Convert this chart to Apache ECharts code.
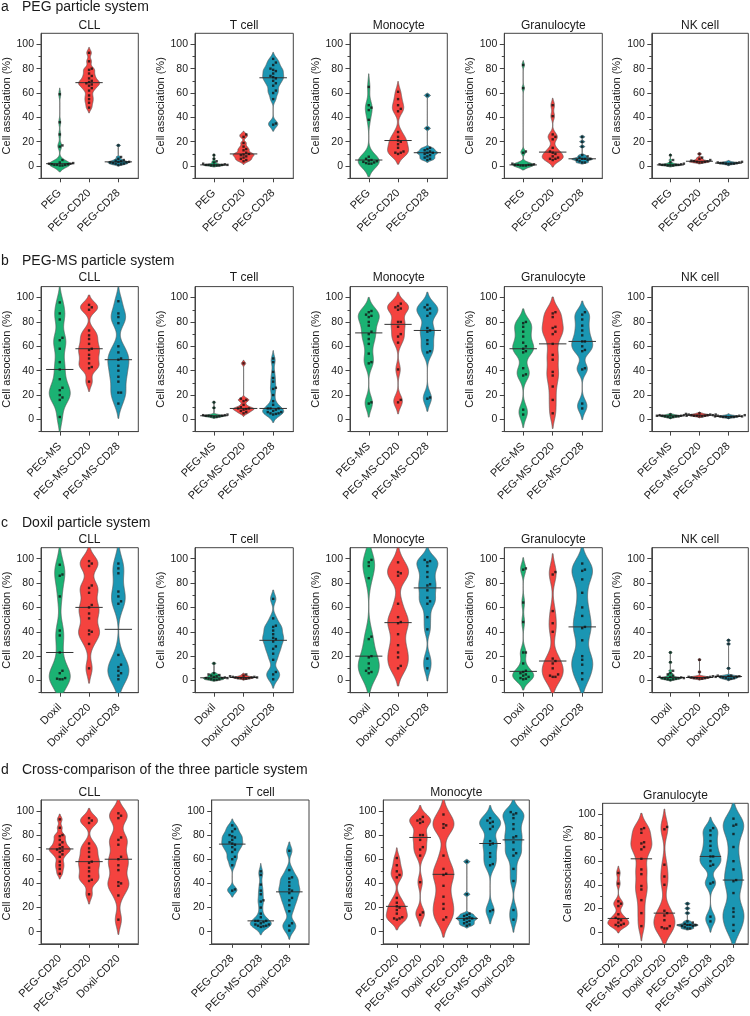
<!DOCTYPE html>
<html><head><meta charset="utf-8">
<script src="https://cdn.jsdelivr.net/npm/echarts@6/dist/echarts.min.js"></script>
<style>html,body{margin:0;padding:0;background:#fff}#c{width:750px;height:1016px}</style>
</head><body><div id="c"></div>
<script>
// ---------- tick labels / categories ----------
const majorTicks = [0, 20, 40, 60, 80, 100];
const minorTicks = [-10, 10, 30, 50, 70, 90];
const cellTypes = ['CLL', 'T cell', 'Monocyte', 'Granulocyte', 'NK cell'];
const catsA = ['PEG', 'PEG-CD20', 'PEG-CD28'];
const catsB = ['PEG-MS', 'PEG-MS-CD20', 'PEG-MS-CD28'];
const catsC = ['Doxil', 'Doxil-CD20', 'Doxil-CD28'];
const catsD20 = ['PEG-CD20', 'PEG-MS-CD20', 'Doxil-CD20'];
const catsD28 = ['PEG-CD28', 'PEG-MS-CD28', 'Doxil-CD28'];
const catsD6 = ['PEG-CD20', 'PEG-MS-CD20', 'Doxil-CD20', 'PEG-CD28', 'PEG-MS-CD28', 'Doxil-CD28'];
const sectionLetters = ['a', 'b', 'c', 'd'];
const sectionTitles = ['PEG particle system', 'PEG-MS particle system', 'Doxil particle system', 'Cross-comparison of the three particle system'];
const yName = 'Cell association (%)';

// ---------- data (cell association %, individual donors) ----------
// a: PEG
const a_CLL_PEG  = [59, 36, 26, 17, 16, 5, 3, 2.5, 2, 2, 1.5, 1.5, 1, 1, 1, 0.5, 0.5];
const a_CLL_CD20 = [93, 86, 80, 79, 76, 74, 72, 70, 69, 68, 67, 66, 64, 62, 58, 55, 52, 48];
const a_CLL_CD28 = [17, 7.5, 6, 5, 4.5, 4, 3.5, 3.5, 3, 3, 2.5, 2, 2, 1.5, 1];
const a_T_PEG    = [9, 6, 4, 3, 2, 1.5, 1, 1, 1, 1, 0.5, 0.5, 0.5, 0.5];
const a_T_CD20   = [26, 24, 19, 16, 14, 13, 11, 10, 9.5, 9, 8, 7, 6, 5, 4];
const a_T_CD28   = [88, 85, 83, 80, 79, 78, 76, 74, 73, 72, 70, 68, 66, 62, 60, 55, 35, 34];
const a_Mono_PEG = [65, 50, 48, 46, 38, 7.7, 6, 5, 4.5, 4, 3.5, 3, 2.5, 2, 2];
const a_Mono_CD20= [61, 55, 50, 47, 45, 28, 24, 21, 20, 18, 15, 12, 11, 11, 10];
const a_Mono_CD28= [58, 31, 15, 14, 13, 12, 11, 11, 10, 9, 8, 7, 6, 5];
const a_Gran_PEG = [83, 64, 12, 11, 2, 1.5, 1, 1, 1, 1, 0.5, 0.5, 0.5];
const a_Gran_CD20= [50, 41, 26, 24, 22, 15, 12, 11, 10, 8, 7, 6, 6, 5];
const a_Gran_CD28= [24, 20, 16, 9, 8, 7, 6, 6, 6, 5, 5, 4, 3, 3];
const a_NK_PEG   = [9, 5, 3, 2, 1.5, 1.5, 1, 1, 1, 0.5, 0.5, 1, 0.5];
const a_NK_CD20  = [10, 7, 6, 5, 4.5, 4, 4, 3.5, 3.5, 3, 3];
const a_NK_CD28  = [3.5, 3, 3, 2.5, 2.5, 2.5, 2, 2, 2, 1.5];
// b: PEG-MS
const b_CLL_MS   = [96, 87, 82, 67, 65, 58, 47, 41, 33, 26, 24, 20, 18, 16, 2];
const b_CLL_CD20 = [94, 92, 90, 73, 69, 66, 62, 58, 57, 53, 50, 46, 43, 42, 31];
const b_CLL_CD28 = [97, 87, 84, 79, 60, 55, 50, 49, 44, 40, 35, 31, 22, 22, 13];
const b_T_MS     = [14, 9.5, 4, 3.5, 3.5, 3, 3, 3, 2.5, 2.5, 2, 2];
const b_T_CD20   = [46, 17, 16, 15, 12, 10, 9, 9, 8.5, 8, 7, 6, 5];
const b_T_CD28   = [50, 47, 39, 34, 31, 26, 25, 20, 15, 12, 9, 9, 9, 8, 7, 6, 6, 5, 5, 4.5, 4];
const b_Mono_MS  = [89, 88, 86, 85, 84, 80, 77, 72, 70, 66, 62, 54, 47, 46, 14, 13];
const b_Mono_CD20= [95, 93, 92, 91, 90, 80, 80, 76, 70, 68, 63, 41, 16, 14];
const b_Mono_CD28= [94, 92, 91, 90, 87, 85, 75, 73, 72, 65, 62, 56, 55, 18, 17];
const b_Gran_MS  = [80, 79, 76, 72, 68, 63, 60, 58, 56, 55, 42, 37, 36, 8, 4];
const b_Gran_CD20= [88, 87, 84, 76, 75, 72, 70, 62, 53, 49, 39, 36, 27, 16, 5];
const b_Gran_CD28= [88, 86, 82, 77, 73, 69, 64, 64, 60, 57, 56, 42, 41, 13, 9];
const b_NK_MS    = [4, 3.5, 3.5, 3, 3, 3, 2.5, 2.5, 2, 2, 3, 2.5, 1.5];
const b_NK_CD20  = [5, 4.5, 4, 4, 3.5, 3.5, 3, 3, 3, 2.5, 2.5, 4, 3.5];
const b_NK_CD28  = [3.5, 3, 3, 2.5, 2.5, 2.5, 2, 2, 2, 2, 1.5, 2.5];
// c: Doxil
const c_CLL_Dox  = [95, 87, 86, 69, 41, 37, 23, 8, 6, 2, 1.5, 1, 1];
const c_CLL_CD20 = [98, 96, 94, 78, 76, 72, 62, 60, 55, 51, 41, 40, 38, 30, 10];
const c_CLL_CD28 = [96, 92, 88, 73, 69, 65, 63, 21, 13, 11, 8, 6, 4, 1];
const c_T_Dox    = [14, 6, 5, 4.5, 4, 3.5, 3, 2.5, 2, 2, 2, 1.5, 1, 1, 0.5, 0.5];
const c_T_CD20   = [5, 4, 3.5, 3, 3, 2.5, 2.5, 2.5, 2, 2, 2, 1.5, 1.5];
const c_T_CD28   = [67, 51, 45, 44, 41, 38, 35, 34, 32, 28, 26, 22, 17, 7, 5, 1];
const c_Mono_Dox = [99, 97, 94, 84, 36, 34, 20, 19, 14, 10, 8, 7, 6];
const c_Mono_CD20= [97, 89, 88, 86, 63, 52, 48, 47, 38, 29, 23, 19, 12, 10];
const c_Mono_CD28= [99, 98, 97, 94, 89, 85, 79, 78, 74, 68, 65, 63, 52, 42, 18, 10];
const c_Gran_Dox = [92, 91, 64, 48, 23, 23, 14, 8, 7, 6, 5, 4, 3, 2, 1.5, 1];
const c_Gran_CD20= [89, 87, 57, 47, 40, 18, 16, 14, 10, 5, 4, 3, 3];
const c_Gran_CD28= [96, 91, 90, 83, 72, 60, 53, 44, 43, 33, 20, 17, 13, 6, 1];
const c_NK_Dox   = [23, 15, 8, 6, 5, 4, 3, 3, 2.5, 2, 2, 2, 1.5, 1.5, 1, 1, 0.5];
const c_NK_CD20  = [17, 7, 3.5, 3, 3, 3, 2.5, 2.5, 2, 2, 2, 1.5, 1.5];
const c_NK_CD28  = [33, 30, 10, 4, 4, 3.5, 3.5, 3, 3, 2.5, 2, 2, 1.5, 1];

// ---------- style / layout ----------
const FONT = '"Liberation Sans", Arial, Helvetica, sans-serif';
const GREEN = '#1bb273', RED = '#f4433f', BLUE = '#1b96b3';
const AXC = '#444', TXT = '#1a1a1a';
const Y_MIN = -10, Y_MAX = 109;
const BOX_H = 145;

const rowTops = [33.3, 286.6, 547.7];
const colLefts = [40.7, 195, 350, 504.3, 651.8];
const colW = [97.6, 98.3, 97.3, 98, 96.5];
const titleYs = [26, 278, 540];
const sectionYs = [7, 261, 523, 770];

const rowSets = [
  [[a_CLL_PEG, a_CLL_CD20, a_CLL_CD28], [a_T_PEG, a_T_CD20, a_T_CD28], [a_Mono_PEG, a_Mono_CD20, a_Mono_CD28], [a_Gran_PEG, a_Gran_CD20, a_Gran_CD28], [a_NK_PEG, a_NK_CD20, a_NK_CD28]],
  [[b_CLL_MS, b_CLL_CD20, b_CLL_CD28], [b_T_MS, b_T_CD20, b_T_CD28], [b_Mono_MS, b_Mono_CD20, b_Mono_CD28], [b_Gran_MS, b_Gran_CD20, b_Gran_CD28], [b_NK_MS, b_NK_CD20, b_NK_CD28]],
  [[c_CLL_Dox, c_CLL_CD20, c_CLL_CD28], [c_T_Dox, c_T_CD20, c_T_CD28], [c_Mono_Dox, c_Mono_CD20, c_Mono_CD28], [c_Gran_Dox, c_Gran_CD20, c_Gran_CD28], [c_NK_Dox, c_NK_CD20, c_NK_CD28]]
];
const rowCats = [catsA, catsB, catsC];

const panels = [];
for (let r = 0; r < 3; r++) {
  for (let c = 0; c < 5; c++) {
    panels.push({
      left: colLefts[c], top: rowTops[r], width: colW[c], height: BOX_H,
      title: cellTypes[c], titleY: titleYs[r],
      cats: rowCats[r], sets: rowSets[r][c], colors: [GREEN, RED, BLUE],
      xMin: -0.64, xMax: 2.68
    });
  }
}
panels.push({left: 40.7, top: 800, width: 97.6, height: BOX_H, title: 'CLL', titleY: 793,
  cats: catsD20, sets: [a_CLL_CD20, b_CLL_CD20, c_CLL_CD20], colors: [RED, RED, RED], xMin: -0.64, xMax: 2.68});
panels.push({left: 211.7, top: 800, width: 97.3, height: BOX_H, title: 'T cell', titleY: 793,
  cats: catsD28, sets: [a_T_CD28, b_T_CD28, c_T_CD28], colors: [BLUE, BLUE, BLUE], xMin: -0.72, xMax: 2.69});
panels.push({left: 383.3, top: 800, width: 146, height: BOX_H, title: 'Monocyte', titleY: 793,
  cats: catsD6, sets: [a_Mono_CD20, b_Mono_CD20, c_Mono_CD20, a_Mono_CD28, b_Mono_CD28, c_Mono_CD28],
  colors: [RED, RED, RED, BLUE, BLUE, BLUE], xMin: -0.58, xMax: 5.68});
panels.push({left: 602.7, top: 803.3, width: 145.5, height: BOX_H, title: 'Granulocyte', titleY: 796,
  cats: catsD6, sets: [a_Gran_CD20, b_Gran_CD20, c_Gran_CD20, a_Gran_CD28, b_Gran_CD28, c_Gran_CD28],
  colors: [RED, RED, RED, BLUE, BLUE, BLUE], xMin: -0.68, xMax: 5.64});

// ---------- helpers ----------
function quantile(s, p) {
  const pos = (s.length - 1) * p, lo = Math.floor(pos), hi = Math.ceil(pos);
  return s[lo] + (s[hi] - s[lo]) * (pos - lo);
}
function median(vals) { return quantile(vals.slice().sort((a, b) => a - b), 0.5); }
function violinShape(vals) {
  const s = vals.slice().sort((a, b) => a - b), n = s.length;
  const mean = s.reduce((a, b) => a + b, 0) / n;
  const sd = Math.sqrt(s.reduce((a, b) => a + (b - mean) * (b - mean), 0) / (n - 1));
  const iqr = quantile(s, 0.75) - quantile(s, 0.25);
  let spread = Math.min(sd, iqr / 1.34);
  if (!(spread > 0)) spread = sd;
  const h = Math.max(0.6, 0.45 * 0.9 * spread * Math.pow(n, -0.2));
  const lo = s[0] - 2 * h, hi = s[n - 1] + 2 * h, N = 320;
  const out = []; let mx = 0;
  for (let i = 0; i <= N; i++) {
    const y = lo + (hi - lo) * i / N;
    let d = 0;
    for (const v of s) { const z = (y - v) / h; d += Math.exp(-0.5 * z * z); }
    out.push([y, d]); if (d > mx) mx = d;
  }
  return out.map(p => [p[0], p[1] / mx]);
}
function swarm(vals, xPU, yPU, dpx) {
  const s = vals.slice().sort((a, b) => a - b);
  const placed = [], out = [];
  for (const v of s) {
    const y = v * yPU;
    let xo = 0;
    for (let k = 0; k < 80; k++) {
      const cand = k === 0 ? 0 : (k % 2 ? 1 : -1) * Math.ceil(k / 2) * dpx;
      let ok = true;
      for (const p of placed) { const dx = p[0] - cand, dy = p[1] - y; if (dx * dx + dy * dy < dpx * dpx) { ok = false; break; } }
      if (ok) { xo = cand; break; }
    }
    placed.push([xo, y]);
    out.push([xo / xPU, v]);
  }
  return out;
}

// ---------- build option ----------
const grids = [], xAxes = [], yAxes = [], series = [], graphics = [];
panels.forEach((p, gi) => {
  const idx = p.cats.map((_, i) => i);
  grids.push({left: p.left, top: p.top, width: p.width, height: p.height, show: true,
    borderColor: AXC, borderWidth: 1, backgroundColor: 'transparent', containLabel: false});
  xAxes.push({gridIndex: gi, type: 'value', min: p.xMin, max: p.xMax, position: 'bottom',
    axisLine: {show: true, onZero: false, lineStyle: {color: AXC, width: 1}},
    axisTick: {show: true, customValues: idx, length: 4, lineStyle: {color: AXC, width: 1}},
    axisLabel: {show: true, customValues: idx, formatter: (v) => p.cats[Math.round(v)] || '',
      rotate: 45, fontSize: 11, color: TXT, fontFamily: FONT, margin: 13},
    splitLine: {show: false}});
  yAxes.push({gridIndex: gi, type: 'value', min: Y_MIN, max: Y_MAX, position: 'left',
    axisLine: {show: true, onZero: false, lineStyle: {color: AXC, width: 1}},
    axisTick: {show: true, customValues: majorTicks, length: 4.5, lineStyle: {color: AXC, width: 1}},
    axisLabel: {show: true, customValues: majorTicks, fontSize: 10.5, color: TXT, fontFamily: FONT, margin: 7},
    splitLine: {show: false},
    name: yName, nameLocation: 'middle', nameRotate: 90, nameGap: 29,
    nameTextStyle: {fontSize: 11, color: TXT, fontFamily: FONT}});
  yAxes.push({gridIndex: gi, type: 'value', min: Y_MIN, max: Y_MAX, position: 'left', offset: 0,
    axisLine: {show: false, onZero: false},
    axisTick: {show: true, customValues: minorTicks, length: 2.5, lineStyle: {color: AXC, width: 1}},
    axisLabel: {show: false}, splitLine: {show: false}});

  const shapes = p.sets.map(violinShape);
  const xPU = p.width / (p.xMax - p.xMin);
  const yPU = p.height / (Y_MAX - Y_MIN);
  const medLen = 0.93 * xPU;
  const halfMax = 10.5;

  series.push({type: 'custom', xAxisIndex: gi, yAxisIndex: gi * 2, clip: true, silent: true, z: 2,
    data: p.sets.map((s, i) => [i, median(s)]),
    encode: {x: 0, y: 1},
    renderItem: function (params, api) {
      const i = api.value(0), med = api.value(1);
      const shp = shapes[i];
      const right = [], left = [];
      for (const q of shp) {
        const c = api.coord([i, q[0]]);
        right.push([c[0] + q[1] * halfMax, c[1]]);
        left.push([c[0] - q[1] * halfMax, c[1]]);
      }
      const pts = right.concat(left.reverse());
      const m = api.coord([i, med]);
      return {type: 'group', children: [
        {type: 'polygon', shape: {points: pts}, style: {fill: p.colors[i], stroke: '#5a5a5a', lineWidth: 0.7}},
        {type: 'line', shape: {x1: m[0] - medLen / 2, y1: m[1], x2: m[0] + medLen / 2, y2: m[1]},
          style: {stroke: '#333', lineWidth: 1}}
      ]};
    }});

  const pts = [];
  p.sets.forEach((s, i) => { swarm(s, xPU, yPU, 2.7).forEach(q => pts.push([i + q[0], q[1]])); });
  series.push({type: 'scatter', xAxisIndex: gi, yAxisIndex: gi * 2, silent: true, z: 3,
    symbol: 'rect', symbolSize: 2.4, itemStyle: {color: '#111'}, data: pts});

  graphics.push({type: 'text', x: p.left + p.width / 2, y: p.titleY,
    style: {text: p.title, font: '12px ' + FONT, fill: TXT, align: 'center', verticalAlign: 'middle'}});
});
sectionTitles.forEach((t, i) => {
  graphics.push({type: 'text', x: 1, y: sectionYs[i],
    style: {text: sectionLetters[i], font: '14px ' + FONT, fill: TXT, align: 'left', verticalAlign: 'middle'}});
  graphics.push({type: 'text', x: 22, y: sectionYs[i],
    style: {text: t, font: '14px ' + FONT, fill: TXT, align: 'left', verticalAlign: 'middle'}});
});

const chart = echarts.init(document.getElementById('c'), null, {renderer: 'canvas'});
chart.setOption({
  animation: false,
  backgroundColor: '#fff',
  textStyle: {fontFamily: FONT},
  grid: grids, xAxis: xAxes, yAxis: yAxes, series: series, graphic: graphics
});
</script></body></html>
